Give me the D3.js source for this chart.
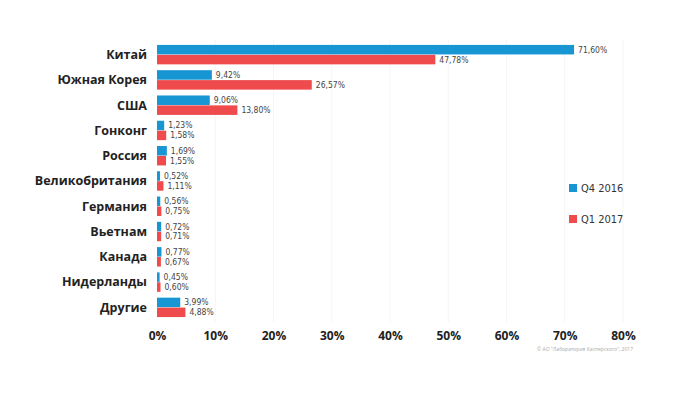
<!DOCTYPE html>
<html>
<head>
<meta charset="utf-8">
<script src="https://cdn.jsdelivr.net/npm/d3@7"></script>
<style>
  body { margin: 0; background: #fff; }
  svg text { font-family: "Liberation Sans Narrow", "Open Sans", sans-serif; }
  .val { font-family: "DejaVu Sans Condensed", "Open Sans", sans-serif; }
</style>
</head>
<body>
<script>
const countries = ["Китай", "Южная Корея", "США", "Гонконг", "Россия", "Великобритания",
                   "Германия", "Вьетнам", "Канада", "Нидерланды", "Другие"];
const q4_2016 = [71.60, 9.42, 9.06, 1.23, 1.69, 0.52, 0.56, 0.72, 0.77, 0.45, 3.99];
const q1_2017 = [47.78, 26.57, 13.80, 1.58, 1.55, 1.11, 0.75, 0.71, 0.67, 0.60, 4.88];
const seriesNames = ["Q4 2016", "Q1 2017"];
const colors = ["#1896d3", "#ef4b4c"];
const xTicks = [0, 10, 20, 30, 40, 50, 60, 70, 80];

const width = 700, height = 394;
const svg = d3.select("body").append("svg")
    .attr("width", width)
    .attr("height", height);

const x = d3.scaleLinear().domain([0, 80]).range([157, 623]);
const y = d3.scaleBand().domain(countries).range([42, 320]).paddingInner(0.2).paddingOuter(0.1);
const sub = d3.scaleBand().domain(seriesNames).range([0, y.bandwidth()]).padding(0.04);

// faint gridlines
svg.append("g")
    .selectAll("line")
    .data(xTicks.slice(1))
    .enter().append("line")
    .attr("x1", d => x(d)).attr("x2", d => x(d))
    .attr("y1", 40).attr("y2", 322)
    .attr("stroke", "#f5f5f5")
    .attr("stroke-width", 1);

const fmt = v => v.toFixed(2).replace(".", ",") + "%";
const series = [q4_2016, q1_2017];

series.forEach((vals, si) => {
    const g = svg.append("g");
    g.selectAll("rect")
        .data(vals)
        .enter().append("rect")
        .attr("x", x(0))
        .attr("y", (d, i) => y(countries[i]) + sub(seriesNames[si]))
        .attr("width", d => x(d) - x(0))
        .attr("height", sub.bandwidth())
        .attr("fill", colors[si]);
    g.selectAll("text")
        .data(vals)
        .enter().append("text")
        .attr("class", "val")
        .attr("x", d => x(d) + 4)
        .attr("y", (d, i) => y(countries[i]) + sub(seriesNames[si]) + sub.bandwidth() / 2)
        .attr("dy", "0.35em")
        .attr("font-size", 8.5)
        .attr("fill", "#444")
        .text(d => fmt(d));
});

// category labels
svg.append("g")
    .selectAll("text")
    .data(countries)
    .enter().append("text")
    .attr("x", 147)
    .attr("y", d => y(d) + y.bandwidth() / 2)
    .attr("dy", "0.35em")
    .attr("text-anchor", "end")
    .attr("font-size", 12.5)
    .attr("font-weight", "bold")
    .attr("fill", "#222")
    .text(d => d);

// x axis labels
const xAxis = d3.axisBottom(x).tickValues(xTicks).tickSize(0).tickFormat(d => d + "%");
svg.append("g")
    .attr("transform", "translate(0,328)")
    .call(xAxis)
    .call(g => g.select(".domain").remove())
    .selectAll("text")
    .attr("font-size", 12)
    .attr("font-weight", "bold")
    .attr("fill", "#222")
    .attr("font-family", "'Liberation Sans Narrow', 'Open Sans', sans-serif");

// legend
const legend = svg.append("g");
seriesNames.forEach((name, i) => {
    const ly = 188 + i * 31;
    legend.append("rect")
        .attr("x", 569).attr("y", ly - 4)
        .attr("width", 8).attr("height", 8)
        .attr("fill", colors[i]);
    legend.append("text")
        .attr("class", "val")
        .attr("x", 581).attr("y", ly)
        .attr("dy", "0.35em")
        .attr("font-size", 11)
        .attr("fill", "#333")
        .text(name);
});

// source note
svg.append("text")
    .attr("x", 633).attr("y", 351)
    .attr("text-anchor", "end")
    .attr("font-size", 5)
    .attr("fill", "#aaa")
    .text("© АО \"Лаборатория Касперского\", 2017");
</script>
</body>
</html>
